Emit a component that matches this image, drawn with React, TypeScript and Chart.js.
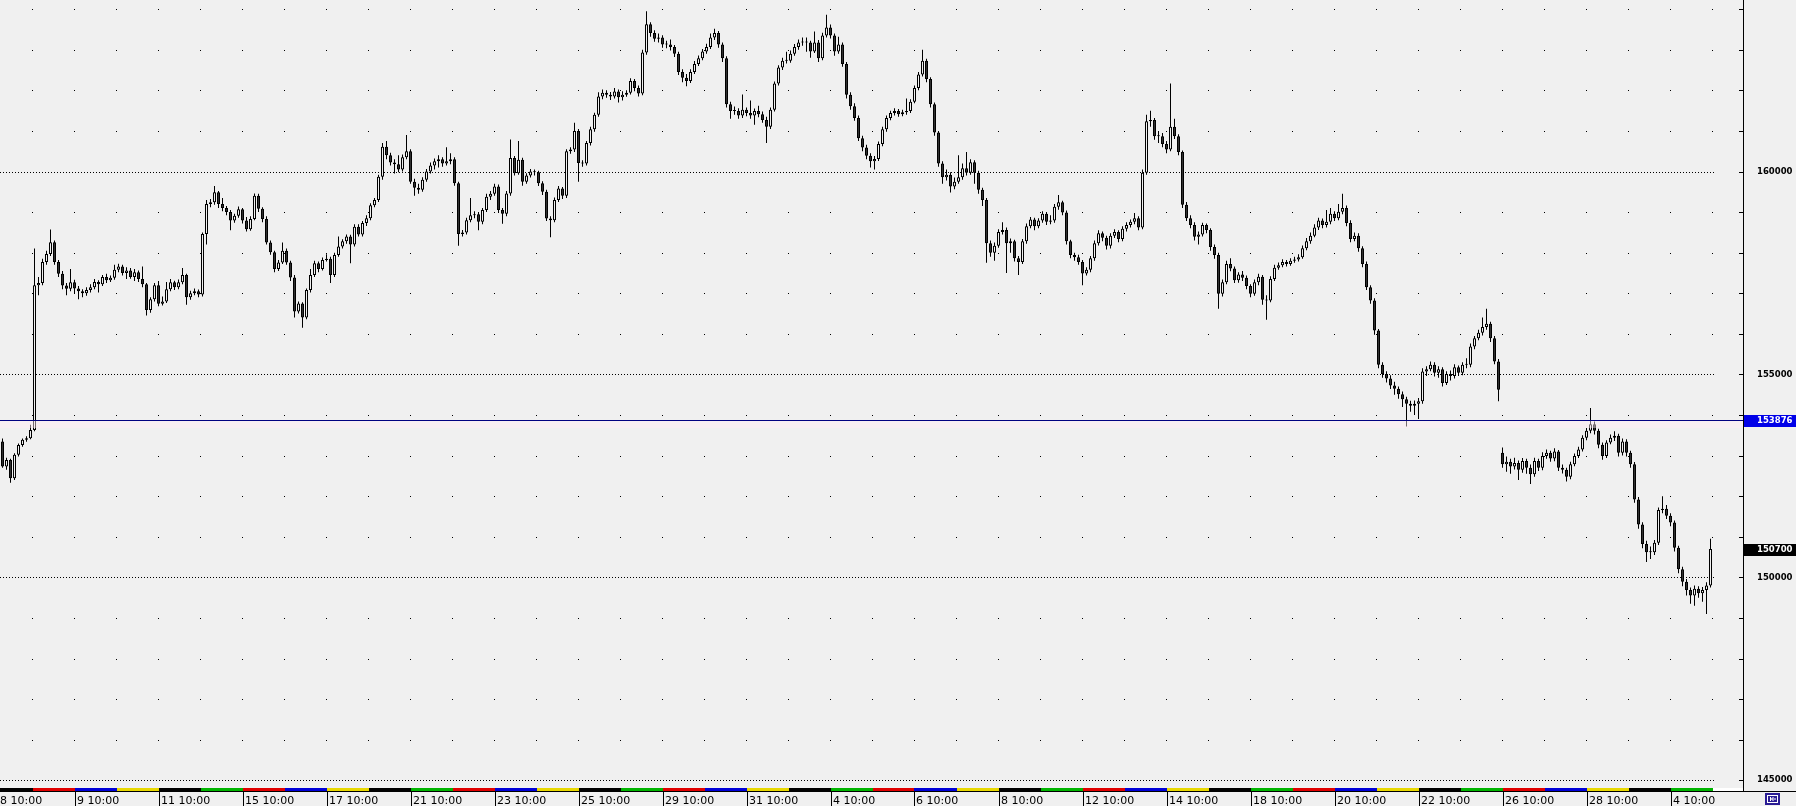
import React, { useEffect, useRef } from "react";
import { Chart, registerables } from "chart.js";

Chart.register(...registerables);

// ---------- data (candles, prices in points) ----------
const opens: number[] = [
  153350,152730,152890,152440,153020,153260,153390,153430,153630,157200,
  157250,157770,157970,158260,157770,157480,157190,157110,157270,157120,
  157050,157000,157080,157150,157280,157220,157400,157320,157380,157580,
  157660,157500,157560,157400,157520,157350,157220,156590,156850,157200,
  156740,156800,157100,157270,157150,157270,157450,156900,157000,157050,
  156970,158460,159200,159240,159490,159200,159100,159000,158790,158910,
  159070,158790,158580,158830,159400,159080,158830,158250,158010,157600,
  157760,158050,157760,157390,156550,156750,156400,157080,157450,157740,
  157600,157820,157850,157450,157940,158150,158280,158400,158200,158640,
  158450,158730,158850,159170,159300,159870,160610,160400,160220,160180,
  160050,160350,160500,159750,159600,159550,159800,160000,160150,160250,
  160300,160200,160250,160300,159710,158460,158500,158800,158920,158950,
  158760,159050,159380,159450,159630,159050,158960,159460,160330,159960,
  160290,159750,159900,160000,159980,159710,159500,158840,158800,159300,
  159580,159400,160500,160540,161000,160210,160200,160700,161040,161400,
  161850,161940,161890,161850,161970,161830,161890,161940,162230,162060,
  161920,162930,163630,163410,163270,163300,163130,163130,163070,162900,
  162450,162310,162230,162450,162650,162790,162960,163070,163300,163410,
  163130,162790,161660,161490,161490,161380,161520,161440,161380,161490,
  161410,161270,161100,161520,162170,162560,162730,162730,162900,163070,
  163180,163180,163180,162960,163180,162790,163350,163550,163350,162960,
  163130,162650,161890,161610,161320,160820,160590,160390,160250,160310,
  160680,161040,161320,161440,161490,161410,161460,161490,161720,162060,
  162390,162730,162280,161660,160960,160200,159860,159920,159630,159750,
  159860,160080,159970,160230,159970,159550,159300,158230,158000,158170,
  158510,158560,158230,158280,157860,157770,158280,158650,158820,158650,
  158790,158960,158760,158790,159130,159240,158990,158280,157940,157890,
  157770,157490,157580,157860,158230,158480,158370,158170,158420,158510,
  158340,158590,158680,158760,158850,158620,159970,161240,161270,160870,
  160870,160680,160540,161100,160870,160480,159180,158850,158680,158390,
  158450,158680,158560,158140,157940,156990,157270,157720,157610,157320,
  157460,157380,157180,156990,157270,157410,156840,156820,157350,157630,
  157690,157770,157720,157800,157830,157890,158110,158280,158420,158620,
  158790,158680,158760,158960,158850,159010,159100,158730,158340,158420,
  158110,157720,157150,156820,156080,155240,155010,154900,154730,154650,
  154510,154390,154280,154230,154280,154340,155070,155130,155240,155040,
  155130,154790,155010,154960,155180,155040,155240,155240,155690,155890,
  156030,156170,156250,155890,155320,153070,152790,152850,152730,152820,
  152650,152870,152700,152540,152870,152700,152990,153070,152930,153100,
  152700,152650,152480,152790,152990,153150,153440,153610,153770,153610,
  153270,152990,153320,153440,153490,153070,153350,153070,152790,151920,
  151300,150820,150620,150620,150850,151660,151690,151520,151350,150730,
  150200,149890,149690,149550,149720,149610,149690,149800,
];

const highs: number[] = [
  153420,152950,152920,153060,153300,153420,153480,153760,158100,157400,
  157850,158050,158570,158300,157820,157550,157250,157600,157330,157180,
  157100,157150,157220,157350,157320,157450,157480,157440,157700,157730,
  157700,157640,157620,157600,157560,157660,157250,156900,157250,157300,
  156920,157280,157350,157310,157340,157620,157480,157060,157120,157090,
  158500,159300,159320,159640,159520,159350,159150,159050,158960,159140,
  159100,158880,158900,159460,159450,159120,158900,158300,158050,157820,
  158250,158100,157800,157450,156800,156780,157120,157600,157800,157780,
  157880,157960,157900,158000,158400,158330,158450,158440,158700,158700,
  158780,158920,159220,159350,159920,160700,160750,160460,160300,160400,
  160420,160900,160550,159820,159700,159860,160060,160220,160320,160400,
  160350,160600,160450,160350,159750,158560,158860,159350,159020,159000,
  159100,159450,159520,159700,159680,159100,159520,160790,160380,160750,
  160340,159960,160060,160050,160020,159760,159550,158900,159360,159640,
  159620,160550,160600,161200,161050,160280,160750,161100,161450,161950,
  162020,162000,161960,162060,162020,161980,162000,162300,162280,162120,
  163000,163950,163680,163480,163400,163360,163220,163250,163120,162950,
  162520,162400,162520,162720,162860,163020,163150,163400,163520,163460,
  163180,162840,161720,161600,161560,161900,161580,161750,161550,161620,
  161480,161350,161580,162220,162620,162800,162950,162980,163140,163250,
  163300,163300,163220,163450,163240,163420,163860,163620,163400,163320,
  163180,162700,161950,161680,161380,160880,160660,160450,160380,160740,
  161100,161380,161500,161560,161540,161520,161800,161780,162120,162450,
  163000,162780,162320,161700,161000,160250,160050,159980,159850,160400,
  160200,160480,160300,160280,160020,159600,159350,158300,158250,158580,
  158750,158620,158350,158320,157920,158340,158720,158880,158860,158850,
  159020,159000,158920,159200,159420,159280,159040,158320,158000,157950,
  157820,157640,157920,158300,158550,158520,158420,158480,158580,158550,
  158650,158750,158820,158980,158900,160050,161400,161500,161320,161000,
  160950,160750,162170,161300,160920,160520,159250,158920,158750,158520,
  158740,158720,158600,158200,158000,157340,157800,157860,157660,157520,
  157550,157440,157220,157340,157480,157450,156950,157420,157700,157760,
  157840,157820,157860,157900,157960,158180,158360,158500,158700,158860,
  158840,159050,159100,159020,159200,159450,159160,158800,158500,158480,
  158160,157780,157200,156880,156120,155300,155080,154980,154820,154700,
  154580,154450,154350,154360,154420,155150,155200,155320,155300,155200,
  155180,155080,155100,155250,155220,155300,155400,155760,155950,156100,
  156400,156620,156300,155950,155380,153200,152980,152920,152950,152880,
  152940,152920,152780,152950,152920,153080,153150,153120,153180,153140,
  152780,152700,152850,153050,153220,153500,153680,154170,153840,153660,
  153320,153380,153520,153600,153540,153420,153400,153120,152840,151980,
  151360,150900,150760,150920,151720,152000,151780,151580,151400,150780,
  150260,149960,149750,149800,149780,149760,149880,150950,
];

const lows: number[] = [
  152700,152650,152330,152400,152980,153220,153340,153400,153600,156950,
  157200,157700,157920,157700,157400,157100,156950,157050,157000,156850,
  156900,156940,157020,157100,157020,157180,157250,157280,157330,157520,
  157440,157350,157360,157300,157280,157150,156450,156520,156800,156680,
  156700,156760,157050,157080,157100,157220,156720,156840,156950,156900,
  156920,158200,159120,159180,159100,159020,158920,158550,158740,158860,
  158720,158520,158540,158800,159000,158750,158200,157950,157520,157550,
  157720,157700,157300,156400,156500,156150,156360,157020,157400,157520,
  157560,157780,157250,157400,157900,158100,158220,157740,158150,158400,
  158400,158660,158800,159120,159250,159800,160300,160150,159950,159980,
  160000,160300,159700,159400,159450,159500,159750,159950,160050,160100,
  160120,160150,160180,159650,158170,158400,158450,158750,158850,158550,
  158700,159000,159300,159400,158980,158710,158900,159400,159900,159920,
  159650,159700,159850,159900,159640,159420,158780,158380,158750,159250,
  159320,159350,160440,160480,159750,160120,160150,160640,160980,161350,
  161780,161820,161760,161800,161700,161750,161840,161900,161980,161850,
  161880,162880,163320,163200,163180,163050,163040,162980,162820,162380,
  162200,162100,162180,162400,162600,162740,162900,163020,163240,163050,
  162700,161580,161300,161400,161300,161320,161360,161300,161150,161340,
  161200,160700,161050,161480,162120,162500,162660,162680,162850,163000,
  163100,162950,162800,162920,162700,162740,163300,163280,162850,162900,
  162580,161800,161520,161250,160750,160500,160300,160100,160050,160260,
  160620,160980,161260,161380,161350,161360,161400,161440,161680,162000,
  162340,162200,161580,160880,160120,159700,159780,159480,159560,159700,
  159800,159900,159920,159700,159450,159150,157750,157900,157800,158120,
  158450,157500,158000,157780,157450,157720,158220,158600,158550,158600,
  158740,158680,158700,158740,159060,158920,158200,157860,157800,157700,
  157200,157440,157520,157800,158180,158280,158080,158100,158360,158260,
  158280,158520,158620,158700,158550,158580,159920,161100,160780,160700,
  160600,160450,160500,160800,160400,159100,158780,158600,158300,158200,
  158400,158480,158050,157850,156620,156920,157220,157540,157250,157260,
  157300,157100,156900,156940,157200,156720,156350,156780,157300,157580,
  157640,157660,157680,157750,157780,157850,158060,158220,158380,158560,
  158600,158620,158700,158780,158800,158950,158650,158260,158280,158020,
  157640,157080,156740,155980,155150,154920,154800,154640,154500,154400,
  154200,153720,154080,154000,153900,154280,154960,155080,154950,154920,
  154700,154740,154850,154900,154960,154980,155150,155180,155620,155840,
  155960,156100,155800,155250,154340,152700,152600,152550,152660,152400,
  152580,152550,152300,152480,152620,152640,152920,152850,152860,152620,
  152560,152360,152420,152740,152940,153100,153380,153550,153520,153180,
  152900,152940,153280,153360,152980,153000,152980,152700,151840,151200,
  150720,150380,150450,150550,150800,151580,151440,151260,150640,150100,
  149780,149550,149350,149300,149500,149400,149100,149750,
];

const closes: number[] = [
  152730,152890,152440,153020,153260,153390,153430,153630,157200,157250,
  157770,157970,158260,157770,157480,157190,157110,157270,157120,157050,
  157000,157080,157150,157280,157220,157400,157320,157380,157580,157660,
  157500,157560,157400,157520,157350,157220,156590,156850,157200,156740,
  156800,157100,157270,157150,157270,157450,156900,157000,157050,156970,
  158460,159200,159240,159490,159200,159100,159000,158790,158910,159070,
  158790,158580,158830,159400,159080,158830,158250,158010,157600,157760,
  158050,157760,157390,156550,156750,156400,157080,157450,157740,157600,
  157820,157850,157450,157940,158150,158280,158400,158200,158640,158450,
  158730,158850,159170,159300,159870,160610,160400,160220,160180,160050,
  160350,160500,159750,159600,159550,159800,160000,160150,160250,160300,
  160200,160250,160300,159710,158460,158500,158800,158920,158950,158760,
  159050,159380,159450,159630,159050,158960,159460,160330,159960,160290,
  159750,159900,160000,159980,159710,159500,158840,158800,159300,159580,
  159400,160500,160540,161000,160210,160200,160700,161040,161400,161850,
  161940,161890,161850,161970,161830,161890,161940,162230,162060,161920,
  162930,163630,163410,163270,163300,163130,163130,163070,162900,162450,
  162310,162230,162450,162650,162790,162960,163070,163300,163410,163130,
  162790,161660,161490,161490,161380,161520,161440,161380,161490,161410,
  161270,161100,161520,162170,162560,162730,162730,162900,163070,163180,
  163180,163180,162960,163180,162790,163350,163550,163350,162960,163130,
  162650,161890,161610,161320,160820,160590,160390,160250,160310,160680,
  161040,161320,161440,161490,161410,161460,161490,161720,162060,162390,
  162730,162280,161660,160960,160200,159860,159920,159630,159750,159860,
  160080,159970,160230,159970,159550,159300,158230,158000,158170,158510,
  158560,158230,158280,157860,157770,158280,158650,158820,158650,158790,
  158960,158760,158790,159130,159240,158990,158280,157940,157890,157770,
  157490,157580,157860,158230,158480,158370,158170,158420,158510,158340,
  158590,158680,158760,158850,158620,159970,161240,161270,160870,160870,
  160680,160540,161100,160870,160480,159180,158850,158680,158390,158450,
  158680,158560,158140,157940,156990,157270,157720,157610,157320,157460,
  157380,157180,156990,157270,157410,156840,156820,157350,157630,157690,
  157770,157720,157800,157830,157890,158110,158280,158420,158620,158790,
  158680,158760,158960,158850,159010,159100,158730,158340,158420,158110,
  157720,157150,156820,156080,155240,155010,154900,154730,154650,154510,
  154390,154280,154230,154280,154340,155070,155130,155240,155040,155130,
  154790,155010,154960,155180,155040,155240,155240,155690,155890,156030,
  156170,156250,155890,155320,154620,152790,152850,152730,152820,152650,
  152870,152700,152540,152870,152700,152990,153070,152930,153100,152700,
  152650,152480,152790,152990,153150,153440,153610,153770,153610,153270,
  152990,153320,153440,153490,153070,153350,153070,152790,151920,151300,
  150820,150620,150620,150850,151660,151690,151520,151350,150730,150200,
  149890,149690,149550,149720,149610,149690,149800,150700,
];

// time axis labels and the bar each one marks (first one sits on the left edge)
const timeLabels: string[] = [
  "8 10:00", "9 10:00", "11 10:00", "15 10:00", "17 10:00", "21 10:00", "23 10:00",
  "25 10:00", "29 10:00", "31 10:00", "4 10:00", "6 10:00", "8 10:00", "12 10:00",
  "14 10:00", "18 10:00", "20 10:00", "22 10:00", "26 10:00", "28 10:00", "4 10:00",
];
const timeLabelBars: number[] = [
  -0.625, 18, 39, 60, 81, 102, 123, 144, 165, 186, 207, 228, 249, 270, 291, 312, 333, 354, 375, 396, 417,
];

// price axis levels (tick marks every 1000, labels every 5000)
const priceLevels: number[] = [
  145000, 146000, 147000, 148000, 149000, 150000, 151000, 152000, 153000, 154000,
  155000, 156000, 157000, 158000, 159000, 160000, 161000, 162000, 163000, 164000,
];
const priceLabelLevels: number[] = [145000, 150000, 155000, 160000];

const priceMin = 144736;
const priceMax = 164226;
const levelLine = 153876;
const lastPrice = 150700;
const dayColors = ["#e00000", "#0000d8", "#e8d800", "#000000", "#00b400"];

// ---------- look ----------
const BG = "#f0f0f0";
const BEAR = "#303030";
const W = 1796;
const H = 806;
const AXIS_W = 53;
const BOTTOM_H = 15;
const BAR_PX = 4;
const X_MIN = -0.625;
const X_MAX = X_MIN + (W - AXIS_W) / BAR_PX;
const SESSION_START = 7.5;
const SESSION_LEN = 10.5;
const GRID_END_BAR = 428;

const decor = {
  id: "mtDecor",
  beforeDraw(chart: any) {
    const { ctx, width, height } = chart;
    ctx.save();
    ctx.fillStyle = BG;
    ctx.fillRect(0, 0, width, height);
    ctx.restore();
  },
  beforeDatasetsDraw(chart: any) {
    const { ctx } = chart;
    const x = chart.scales.x;
    const y = chart.scales.y;
    const endX = Math.round(x.getPixelForValue(GRID_END_BAR));
    ctx.save();
    ctx.fillStyle = "#000";
    y.ticks.forEach((t: any) => {
      const v = Math.round(t.value);
      const py = Math.round(y.getPixelForValue(v));
      if (priceLabelLevels.includes(v)) {
        for (let px = 0; px < endX; px += 3) ctx.fillRect(px, py, 1, 1);
      } else {
        for (let b = SESSION_START; b <= GRID_END_BAR; b += SESSION_LEN) {
          const px = Math.floor(x.getPixelForValue(b));
          ctx.fillRect(px, py, 1, 1);
        }
      }
    });
    ctx.restore();
  },
  afterDatasetsDraw(chart: any) {
    const { ctx, chartArea: a, width } = chart;
    const x = chart.scales.x;
    const y = chart.scales.y;
    ctx.save();

    // horizontal level line
    const ly = Math.round(y.getPixelForValue(levelLine));
    ctx.fillStyle = "rgba(255,235,245,0.45)";
    ctx.fillRect(0, ly + 1, a.right, 7);
    ctx.fillStyle = "#000080";
    ctx.fillRect(0, ly, a.right, 1);

    // frame
    ctx.fillStyle = "#000";
    ctx.fillRect(a.right, 0, 1, a.bottom + 1);
    ctx.fillRect(0, a.bottom, width, 1);

    // inner tick marks on the price axis
    y.ticks.forEach((t: any) => {
      const py = Math.round(y.getPixelForValue(t.value));
      ctx.fillRect(a.right - 4, py, 4, 1);
    });

    // price tags
    const tag = (value: number, color: string) => {
      const py = Math.round(y.getPixelForValue(value));
      ctx.fillStyle = color;
      ctx.fillRect(a.right + 1, py - 5, width - a.right - 1, 12);
      ctx.fillStyle = "#fff";
      ctx.font = "bold 8.5px 'DejaVu Sans'";
      ctx.textBaseline = "middle";
      ctx.textAlign = "left";
      ctx.fillText(String(value), a.right + 14, py + 1);
    };
    tag(levelLine, "#0000e8");
    tag(lastPrice, "#000000");

    // day colour strip (just above the bottom frame line)
    const sy = a.bottom - 3;
    const stripEnd = Math.round(x.getPixelForValue(closes.length - 0.4));
    ctx.fillStyle = "#000";
    ctx.fillRect(0, sy, stripEnd, 3);
    ctx.fillStyle = "#ffffff";
    ctx.fillRect(stripEnd, sy, a.right - stripEnd, 3);
    for (let k = 0; ; k++) {
      const b0 = SESSION_START + k * SESSION_LEN;
      if (b0 >= closes.length) break;
      const p0 = Math.round(x.getPixelForValue(b0));
      const p1 = Math.min(stripEnd, Math.round(x.getPixelForValue(b0 + SESSION_LEN)));
      ctx.fillStyle = dayColors[k % dayColors.length];
      ctx.fillRect(p0, sy, p1 - p0, 3);
    }

    // time labels
    ctx.font = "11px 'DejaVu Sans'";
    ctx.textBaseline = "alphabetic";
    ctx.textAlign = "left";
    timeLabels.forEach((lab, i) => {
      const px = Math.round(x.getPixelForValue(timeLabelBars[i]));
      ctx.fillStyle = "#000";
      if (i > 0) ctx.fillRect(px, a.bottom, 1, H - a.bottom);
      ctx.fillText(lab, i > 0 ? px + 2 : 0, H - 2);
    });

    // navigation icon
    const ix = a.right + 22;
    const iy = a.bottom + 2;
    ctx.fillStyle = "#2a1c94";
    ctx.fillRect(ix, iy, 15, 12);
    ctx.strokeStyle = "#ffffff";
    ctx.lineWidth = 1;
    ctx.strokeRect(ix + 2.5, iy + 2.5, 10, 7);
    ctx.beginPath();
    ctx.moveTo(ix + 5.5, iy + 4);
    ctx.lineTo(ix + 5.5, iy + 8);
    ctx.moveTo(ix + 11, iy + 6);
    ctx.lineTo(ix + 6.5, iy + 6);
    ctx.moveTo(ix + 8.5, iy + 4);
    ctx.lineTo(ix + 6.5, iy + 6);
    ctx.lineTo(ix + 8.5, iy + 8);
    ctx.stroke();

    ctx.restore();
  },
};

export default function App() {
  const ref = useRef<HTMLCanvasElement | null>(null);

  useEffect(() => {
    document.body.style.margin = "0";
    const canvas = ref.current;
    if (!canvas) return;

    const bodies = closes.map((c, i) => ({ x: i, y: [opens[i], c] }));
    const wicks = closes.map((_c, i) => ({ x: i, y: [lows[i], highs[i]] }));

    const chart = new Chart(canvas, {
      type: "bar",
      data: {
        datasets: [
          {
            label: "body",
            data: bodies as any,
            barThickness: 3,
            grouped: false,
            borderWidth: 1,
            borderColor: "#000",
            borderSkipped: false,
            inflateAmount: 0,
            minBarLength: 1,
            backgroundColor: (c: any) =>
              closes[c.dataIndex] >= opens[c.dataIndex] ? BG : BEAR,
            order: 1,
          } as any,
          {
            label: "wick",
            data: wicks as any,
            barThickness: 1,
            grouped: false,
            borderWidth: 0,
            inflateAmount: 0,
            backgroundColor: "#000",
            order: 2,
          } as any,
        ],
      },
      options: {
        responsive: false,
        maintainAspectRatio: false,
        animation: false,
        devicePixelRatio: 1,
        events: [],
        layout: { padding: { top: 0, left: 0, right: 0, bottom: BOTTOM_H } },
        plugins: {
          legend: { display: false },
          tooltip: { enabled: false },
          title: { display: false },
        },
        scales: {
          x: {
            type: "linear",
            display: false,
            offset: false,
            min: X_MIN,
            max: X_MAX,
          },
          y: {
            type: "linear",
            position: "right",
            min: priceMin,
            max: priceMax,
            afterBuildTicks: (s: any) => {
              s.ticks = priceLevels.map((v) => ({ value: v }));
            },
            afterFit: (s: any) => {
              s.width = AXIS_W;
              s.paddingTop = 0;
              s.paddingBottom = 0;
            },
            grid: { display: false, drawTicks: false },
            border: { display: false },
            ticks: {
              autoSkip: false,
              padding: 14,
              color: "#000",
              font: { family: "DejaVu Sans", size: 8.5, weight: "bold" },
              callback: (v: any) => {
                const n = Math.round(Number(v));
                return priceLabelLevels.includes(n) ? String(n) : "";
              },
            },
          },
        },
      } as any,
      plugins: [decor],
    });

    return () => chart.destroy();
  }, []);

  return (
    <div style={{ position: "absolute", left: 0, top: 0, width: W, height: H, background: BG }}>
      <canvas ref={ref} width={W} height={H} style={{ display: "block", width: W, height: H }} />
    </div>
  );
}
